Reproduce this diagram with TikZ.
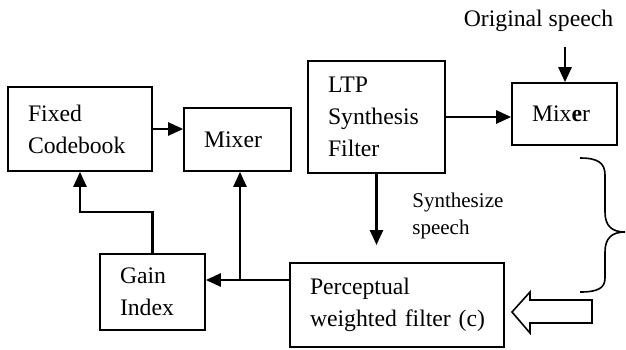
\documentclass[tikz,border=0pt]{standalone}
\usepackage{fontspec}
\setmainfont{Liberation Serif}
\usetikzlibrary{arrows.meta}

\begin{document}
\begin{tikzpicture}[x=0.5pt, y=-0.5pt,
  box/.style={draw, line width=0.8pt, align=left, inner xsep=10pt, inner ysep=0pt, font=\fontsize{11.85}{16}\selectfont},
  arr/.style={line width=1.3pt, -{Triangle[length=7.5pt,width=6.5pt]}}]

\useasboundingbox (0,0) rectangle (626,349);

\node[box, text width=52pt, minimum height=42pt] (codebook) at (80,129) {Fixed\\Codebook};
\node[box, text width=33.5pt, minimum height=31.5pt] (mixera) at (237.5,139.5) {Mixer};
\node[box, text width=48.5pt, minimum height=56pt] (ltp) at (376.5,117) {LTP\\Synthesis\\Filter};
\node[box, text width=32.5pt, minimum height=31pt] (mixerb) at (564.5,114) {Mix\textbf{e}r};
\node[box, text width=32.5pt, minimum height=38pt] (gain) at (152.5,292) {Gain\\Index};
\node[box, text width=87pt, minimum height=42pt] (perc) at (397,305) {Perceptual\\\mbox{weighted filter (c)}};

\node[inner sep=0pt, font=\fontsize{11.85}{16}\selectfont] (orig) at (538.5,21) {Original speech};
\node[inner sep=0pt, anchor=west, align=left, font=\fontsize{10.5}{13.5}\selectfont] (synth) at (412,216) {Synthesize\\speech};

\coordinate (origin) at (565,47);
\coordinate (synthend) at (377,245);
\coordinate (split) at (240,280);
\coordinate (bend) at (152.5,212);

\draw[arr] (codebook.east) -- (codebook.east -| mixera.west);
\draw[arr] (ltp.east) -- (ltp.east -| mixerb.west);
\draw[arr] (origin) -- (origin |- mixerb.north);
\draw[arr] (ltp.south) -- (ltp.south |- synthend);
\draw[arr] (perc.west |- split) -- (gain.east |- split);
\draw[arr] (split) -- (split |- mixera.south);
\draw[arr] (gain.north) -- (gain.north |- bend) -| (codebook.south);

\draw[line width=0.8pt] (580,158) .. controls (598,158) and (605,163) .. (605,175) -- (605,212)
  .. controls (605,226) and (612,232) .. (625,232) .. controls (612,232) and (605,238) .. (605,252)
  -- (605,278) .. controls (605,288) and (598,292) .. (580,292);

\draw[line width=0.8pt] (512,312) -- (530,292) -- (530,300) -- (592,300) -- (592,323) -- (530,323) -- (530,333) -- cycle;

\end{tikzpicture}
\end{document}
